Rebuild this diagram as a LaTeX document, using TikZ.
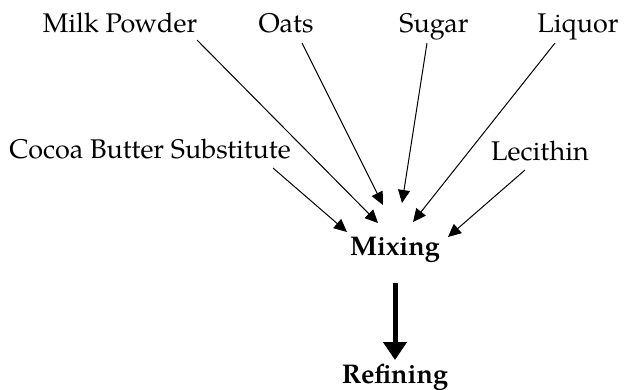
\documentclass[tikz,border=0pt]{standalone}
\usepackage{fontspec}
\setmainfont{TeX Gyre Pagella}
\usetikzlibrary{arrows.meta}
\begin{document}
\begin{tikzpicture}[x=1pt,y=-1pt,
  lbl/.style={anchor=base,inner sep=0pt,font=\fontsize{27}{30}\selectfont},
  blbl/.style={lbl,font=\fontsize{27}{30}\selectfont\bfseries},
  feed/.style={line width=1pt,-{Triangle[length=13pt,width=12pt]}},
  flow/.style={line width=5pt,-{Triangle[length=18pt,width=23pt]}}]
\useasboundingbox (0,0) rectangle (629,389);
\node[lbl] (mp) at (120,32) {Milk Powder};
\node[lbl] (oats) at (286,32) {Oats};
\node[lbl] (sugar) at (434,32) {Sugar};
\node[lbl] (liq) at (578,32) {Liquor};
\node[lbl] (cbs) at (150,158) {Cocoa Butter Substitute};
\node[lbl] (lec) at (540,160) {Lecithin};
\node[blbl] (mix) at (395,255) {Mixing};
\node[blbl] (ref) at (395,383) {Refining};
\coordinate (mp-s) at (197,40);
\coordinate (mp-e) at (378,223);
\coordinate (oats-s) at (302,43);
\coordinate (oats-e) at (383,205);
\coordinate (sugar-s) at (427,43);
\coordinate (sugar-e) at (402,203);
\coordinate (liq-s) at (555,43);
\coordinate (liq-e) at (413,222);
\coordinate (cbs-s) at (273,168);
\coordinate (cbs-e) at (347,232);
\coordinate (lec-s) at (525,170);
\coordinate (lec-e) at (448,237);
\coordinate (mix-s) at (395,283);
\coordinate (ref-e) at (395,360);
\draw[feed] (mp-s) -- (mp-e);
\draw[feed] (oats-s) -- (oats-e);
\draw[feed] (sugar-s) -- (sugar-e);
\draw[feed] (liq-s) -- (liq-e);
\draw[feed] (cbs-s) -- (cbs-e);
\draw[feed] (lec-s) -- (lec-e);
\draw[flow] (mix-s) -- (ref-e);
\end{tikzpicture}
\end{document}
